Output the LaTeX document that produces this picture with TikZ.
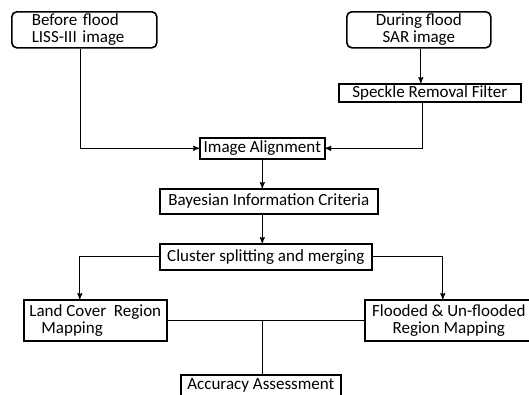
\documentclass[tikz,border=0pt]{standalone}
\usepackage{fontspec}
\setmainfont{Carlito}
\usetikzlibrary{arrows}
\usetikzlibrary{positioning}

\begin{document}
\begin{tikzpicture}[x=1pt,y=-1pt,->,>=stealth',line width=1.1pt,auto,
    box node/.style={draw,line width=1.6pt,inner sep=0pt,anchor=north west,font=\fontsize{17}{17}\selectfont},
    round node/.style={box node,rounded corners=5pt}]
  \useasboundingbox (0,0) rectangle (529,394);
  \begin{scope}
    % inputs
    \node[round node,minimum width=145,minimum height=36,text width=105,inner xsep=20,align=left] (before) at (11,11) {Before flood\\LISS-III image};
    \node[round node,minimum width=144,minimum height=36,align=center] (during) at (346,11) {During flood\\SAR image};
    \node[box node,minimum width=182,minimum height=18] (speckle) at (338,83) {Speckle Removal Filter};
    % main chain
    \node[box node,minimum width=125,minimum height=21] (align) at (199,137) {Image Alignment};
    \node[box node,minimum width=218,minimum height=25] (bic) at (159,188) {Bayesian Information Criteria};
    \node[box node,minimum width=212,minimum height=26] (cluster) at (159,243) {Cluster splitting and merging};
    % outputs
    \node[box node,minimum width=143,minimum height=41,align=left] (land) at (23,299) {Land Cover\ \ Region\\\hspace{12pt}Mapping};
    \node[box node,minimum width=168,minimum height=41,align=center] (flood) at (364,299) {Flooded \& Un-flooded\\Region Mapping};
    \node[box node,minimum width=160,minimum height=22] (acc) at (180,374) {Accuracy Assessment};
    %\node[box node] (res) at (180,420) {};
    \draw ([xshift=-3.5pt]before.south) |- (align.west);
    \draw ([xshift=2pt]during.south) -- ([xshift=-9pt]speckle.north);
    \draw ([xshift=-7pt]speckle.south) |- (align.east);
    \draw (align.south) -- (align.south |- bic.north);
    \draw (align.south |- bic.south) -- (align.south |- cluster.north);
    \draw (cluster.west) -| ([xshift=-15.5pt]land.north);
    \draw (cluster.east) -| ([xshift=-6pt]flood.north);
    \path[-] (land.east) edge (flood.west);
    \draw[-] ([xshift=2pt]acc.north) -- ([xshift=2pt]acc.north |- land.east);
  \end{scope}
\end{tikzpicture}
\end{document}
